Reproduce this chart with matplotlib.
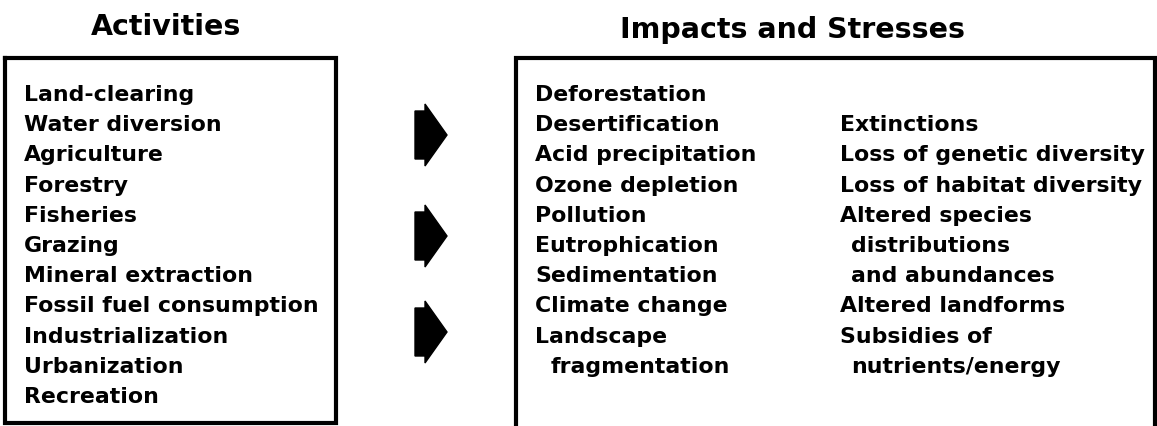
import matplotlib.pyplot as plt
from matplotlib.patches import Polygon

# textos do diagrama
titulo_esq = 'Activities'
titulo_dir = 'Impacts and Stresses'

atividades = ['Land-clearing', 'Water diversion', 'Agriculture', 'Forestry',
              'Fisheries', 'Grazing', 'Mineral extraction',
              'Fossil fuel consumption', 'Industrialization', 'Urbanization',
              'Recreation']

impactos_1 = ['Deforestation', 'Desertification', 'Acid precipitation',
              'Ozone depletion', 'Pollution', 'Eutrophication',
              'Sedimentation', 'Climate change', 'Landscape',
              '  fragmentation']

impactos_2 = ['', 'Extinctions', 'Loss of genetic diversity',
              'Loss of habitat diversity', 'Altered species',
              '  distributions', '  and abundances', 'Altered landforms',
              'Subsidies of', '  nutrients/energy']

setas_y = [136, 237, 333]

W, H = 1157, 427
fig = plt.figure(figsize=(W / 100, H / 100), dpi=100)
ax = fig.add_axes([0, 0, 1, 1])
ax.set_xlim(0, W)
ax.set_ylim(H, 0)
ax.axis('off')

fonte = 'DejaVu Sans'
tam = 15.8
y0 = 101
passo = 30.2


def escreve(x, i, txt, recuo):
    if txt.startswith('  '):
        x = x + recuo
        txt = txt.strip()
    ax.text(x, y0 + i * passo, txt, fontsize=tam, family=fonte,
            fontweight='bold', va='baseline', ha='left', color='black')


# titulos
ax.text(166, 35, titulo_esq, fontsize=20.5, family=fonte, fontweight='bold',
        ha='center', va='baseline')
ax.text(792, 38, titulo_dir, fontsize=20.5, family=fonte, fontweight='bold',
        ha='center', va='baseline')

# caixa da esquerda
ax.plot([5, 336, 336, 5, 5], [59, 59, 424, 424, 59], color='black', lw=3,
        solid_joinstyle='miter')
# caixa da direita (sem borda inferior visivel)
ax.plot([516, 516, 1155, 1155], [H + 5, 59, 59, H + 5], color='black', lw=3,
        solid_joinstyle='miter')

for i, t in enumerate(atividades):
    escreve(24, i, t, 0)
for i, t in enumerate(impactos_1):
    escreve(535, i, t, 16)
for i, t in enumerate(impactos_2):
    if t:
        escreve(840, i, t, 11)

# setas
for yc in setas_y:
    pts = [(425, yc - 31), (447, yc), (425, yc + 31), (425, yc + 24),
           (415, yc + 24), (415, yc - 24), (425, yc - 24)]
    ax.add_patch(Polygon(pts, closed=True, facecolor='black', edgecolor='black'))

plt.savefig('out.png', dpi=100)
